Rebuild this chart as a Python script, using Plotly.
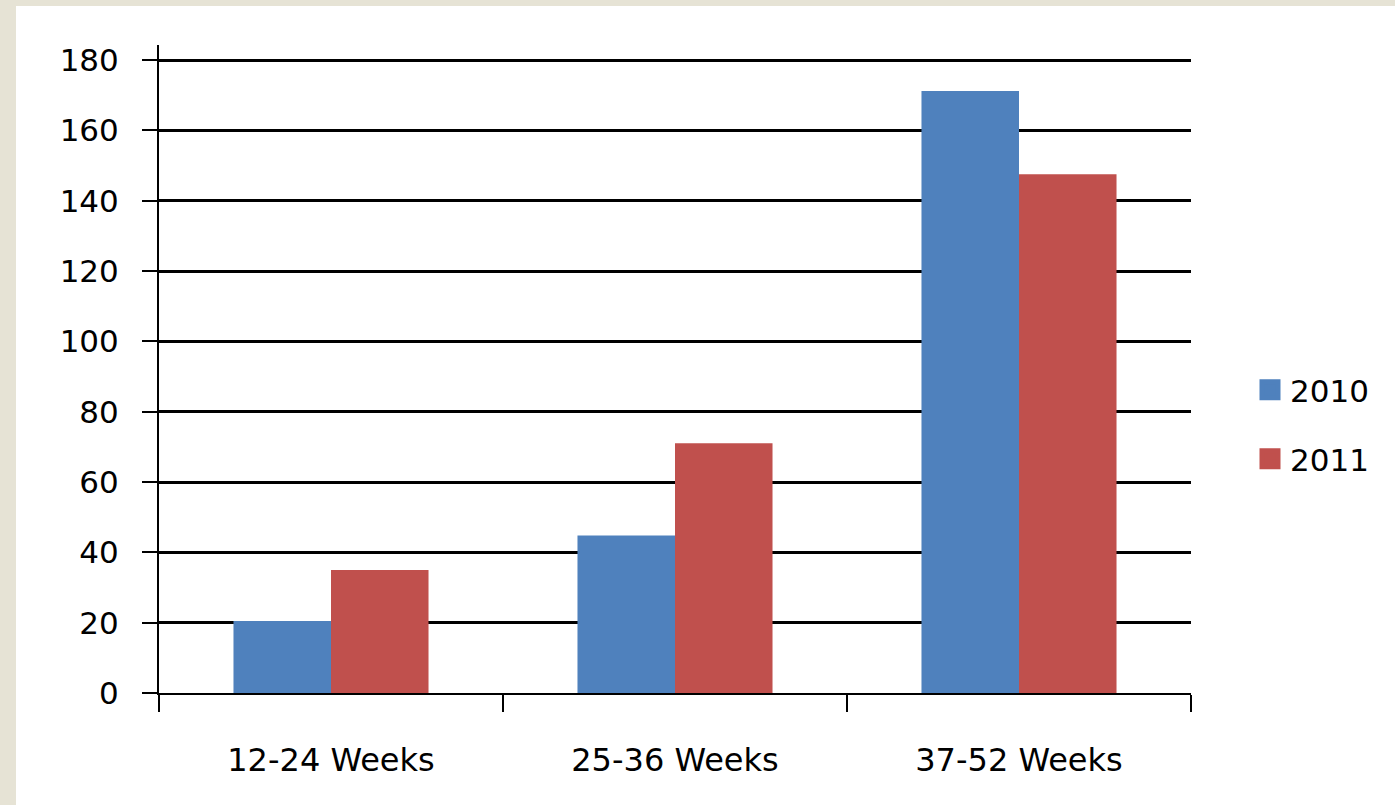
import plotly.graph_objects as go

categories = ["12-24 Weeks", "25-36 Weeks", "37-52 Weeks"]
series_2010 = [20.5, 44.8, 171.2]
series_2011 = [35.0, 71.0, 147.5]
y_ticks = [0, 20, 40, 60, 80, 100, 120, 140, 160, 180]

BLUE = "#4F81BD"
RED = "#C0504D"
BEIGE = "#E6E3D5"
FONT = "DejaVu Sans"

W, H = 1395, 805
L, R, T, B = 159, 204, 45, 112
pw, ph = W - L - R, H - T - B

fig = go.Figure()
fig.add_trace(go.Bar(x=categories, y=series_2010, name="2010", marker=dict(color=BLUE, line=dict(width=0)), showlegend=False))
fig.add_trace(go.Bar(x=categories, y=series_2011, name="2011", marker=dict(color=RED, line=dict(width=0)), showlegend=False))
# legend entries
fig.add_trace(go.Scatter(x=[None], y=[None], mode="markers", name="2010",
                         marker=dict(symbol="square", size=16, color=BLUE, line=dict(width=5, color=BLUE)),
                         legend="legend"))
fig.add_trace(go.Scatter(x=[None], y=[None], mode="markers", name="2011",
                         marker=dict(symbol="square", size=16, color=RED, line=dict(width=5, color=RED)),
                         legend="legend2"))

ymax = 180 * ph / 633.0

def px_x(px):
    return (px - L) / pw

def px_y(py):
    return (H - B - py) / ph

fig.update_layout(
    width=W, height=H,
    margin=dict(l=L, r=R, t=T, b=B),
    paper_bgcolor="white", plot_bgcolor="white",
    font=dict(family=FONT, size=31, color="black"),
    barmode="group", bargap=0.433, bargroupgap=0,
    xaxis=dict(showline=True, linecolor="black", linewidth=2,
               ticks="outside", tickson="boundaries", ticklen=17, tickwidth=2, tickcolor="black",
               showgrid=False, ticklabelstandoff=38, tickfont=dict(size=32)),
    yaxis=dict(range=[0, ymax], tickvals=y_ticks, showline=True, linecolor="black", linewidth=2,
               ticks="outside", ticklen=15, tickwidth=2, tickcolor="black",
               showgrid=True, gridcolor="black", gridwidth=2.5, zeroline=False,
               ticklabelstandoff=17, tickfont=dict(size=31)),
    legend=dict(x=px_x(1250), y=px_y(390), xanchor="left", yanchor="middle",
                bgcolor="rgba(0,0,0,0)", font=dict(size=31), itemwidth=30),
    legend2=dict(x=px_x(1250), y=px_y(459), xanchor="left", yanchor="middle",
                 bgcolor="rgba(0,0,0,0)", font=dict(size=31), itemwidth=30),
    shapes=[
        dict(type="rect", xref="paper", yref="paper", x0=px_x(0), x1=px_x(16), y0=px_y(H), y1=px_y(0),
             fillcolor=BEIGE, line=dict(width=0), layer="above"),
        dict(type="rect", xref="paper", yref="paper", x0=px_x(0), x1=px_x(W), y0=px_y(6), y1=px_y(0),
             fillcolor=BEIGE, line=dict(width=0), layer="above"),
    ],
)

fig.write_html("out.html")
